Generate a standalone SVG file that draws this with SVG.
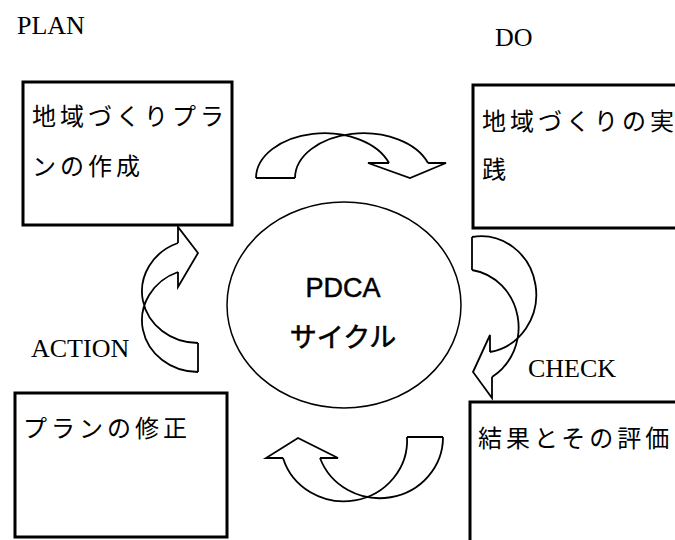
<svg xmlns="http://www.w3.org/2000/svg" width="675" height="540" viewBox="0 0 675 540">
<style>
.box{fill:#fff;stroke:#000;stroke-width:3}
.lbl{font-family:"Liberation Serif",serif;font-size:26px;fill:#000}
.jp{font-family:"Noto Sans CJK JP",sans-serif;font-size:24px;letter-spacing:4px;fill:#000}
.arr{fill:none;stroke:#000;stroke-width:1.8;stroke-linejoin:miter}
</style>
<rect width="675" height="540" fill="#fff"/>
<text class="lbl" x="17" y="34">PLAN</text>
<text class="lbl" x="495" y="46">DO</text>
<text class="lbl" x="31" y="357">ACTION</text>
<text class="lbl" x="528" y="377">CHECK</text>
<g id="plan">
<rect class="box" x="23" y="82" width="209" height="143"/>
<text class="jp" x="32" y="125">地域づくりプラ</text>
<text class="jp" x="32" y="175">ンの作成</text>
</g>
<g id="do">
<rect class="box" x="473" y="85" width="210" height="143"/>
<text class="jp" x="482" y="130">地域づくりの実</text>
<text class="jp" x="482" y="178">践</text>
</g>
<g id="action">
<rect class="box" x="15" y="393" width="212" height="144"/>
<text class="jp" x="23" y="437" letter-spacing="3">プランの修正</text>
</g>
<g id="check">
<rect class="box" x="470" y="402" width="215" height="150"/>
<text class="jp" x="478" y="447" letter-spacing="3.5">結果とその評価</text>
</g>
<g id="pdca">
<ellipse cx="344" cy="305" rx="117" ry="103" fill="#fff" stroke="#000" stroke-width="1.5"/>
<text x="343" y="297" text-anchor="middle" font-family="Liberation Sans, sans-serif" font-size="27" fill="#000" stroke="#000" stroke-width="0.5">PDCA</text>
<text x="343" y="347" text-anchor="middle" font-family="Noto Sans CJK JP, sans-serif" font-size="27" fill="#000" stroke="#000" stroke-width="0.6">サイクル</text>
</g>
<g id="connectors">
<path class="arr" d="M256,178 A68.5,45 0 0,1 389,163 M295,178 A68.5,45 0 0,1 428,163 M256,178 L295,178 M389,163 L368,163 L410,178 L446,163 L428,163"/>
<path class="arr" d="M472,237 A55,58 0 0,1 490,352 M472,270 A55,58 0 0,1 492,377 M472,237 L472,270 M490,352 L490,335 L473,372 L492,398 L492,377"/>
<path class="arr" d="M443,437 A63.4,61 0 0,1 320,458 M407,437 A63.4,61 0 0,1 283,458 M407,437 L443,437 M320,458 L338,458 L298,438 L266,458 L283,458"/>
<path class="arr" d="M198,343 A56,51.7 0 0,1 178,243 M198,372 A56,51.7 0 0,1 178,272 M198,343 L198,372 M178,243 L178,227 L198,253 L178,287 L178,272"/>
</g>
</svg>
